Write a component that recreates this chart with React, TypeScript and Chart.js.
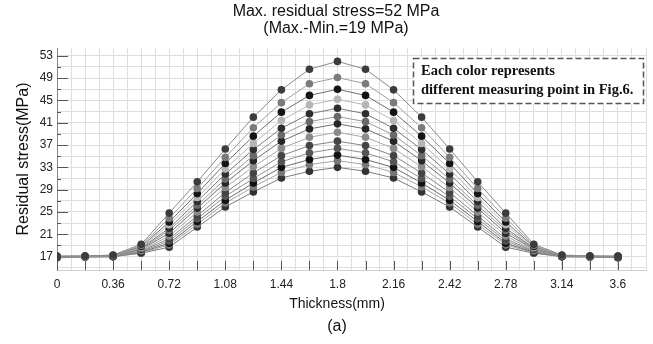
import { useEffect, useRef } from 'react';
import { Chart, registerables } from 'chart.js';

Chart.register(...registerables);

const thickness = [0, 0.18, 0.36, 0.54, 0.72, 0.9, 1.08, 1.26, 1.44, 1.62, 1.8, 1.98, 2.16, 2.34, 2.52, 2.7, 2.88, 3.06, 3.24, 3.42, 3.6];
const xTickLabels = ['0', '0.36', '0.72', '1.08', '1.44', '1.8', '2.16', '2.42', '2.78', '3.14', '3.6'];
const yTickLabels = [17, 21, 25, 29, 33, 37, 41, 45, 49, 53];

const s1 = [17.1, 17.1, 17.3, 19.2, 24.8, 30.4, 36.3, 42.0, 46.9, 50.6, 52.0, 50.6, 46.9, 42.0, 36.3, 30.4, 24.8, 19.2, 17.3, 17.1, 17.1];
const s2 = [17.1, 17.1, 17.2, 19.0, 23.9, 29.2, 34.8, 40.1, 44.6, 48.0, 49.1, 48.0, 44.6, 40.1, 34.8, 29.2, 23.9, 19.0, 17.2, 17.1, 17.1];
const s3 = [17.0, 17.1, 17.2, 18.8, 23.2, 28.3, 33.7, 38.6, 42.9, 45.9, 47.0, 45.9, 42.9, 38.6, 33.7, 28.3, 23.2, 18.8, 17.2, 17.1, 17.0];
const s4 = [17.0, 17.0, 17.2, 18.6, 22.7, 27.6, 32.7, 37.3, 41.4, 44.2, 45.2, 44.2, 41.4, 37.3, 32.7, 27.6, 22.7, 18.6, 17.2, 17.0, 17.0];
const s5 = [17.0, 17.0, 17.1, 18.5, 22.1, 26.9, 31.8, 36.2, 40.0, 42.6, 43.6, 42.6, 40.0, 36.2, 31.8, 26.9, 22.1, 18.5, 17.1, 17.0, 17.0];
const s6 = [17.0, 17.0, 17.1, 18.4, 21.7, 26.2, 30.9, 35.1, 38.8, 41.2, 42.1, 41.2, 38.8, 35.1, 30.9, 26.2, 21.7, 18.4, 17.1, 17.0, 17.0];
const s7 = [17.0, 17.0, 17.1, 18.3, 21.2, 25.7, 30.2, 34.2, 37.7, 39.9, 40.8, 39.9, 37.7, 34.2, 30.2, 25.7, 21.2, 18.3, 17.1, 17.0, 17.0];
const s8 = [17.0, 17.0, 17.1, 18.1, 20.7, 25.0, 29.4, 33.1, 36.4, 38.4, 39.3, 38.4, 36.4, 33.1, 29.4, 25.0, 20.7, 18.1, 17.1, 17.0, 17.0];
const s9 = [16.9, 17.0, 17.0, 18.0, 20.2, 24.3, 28.5, 32.0, 35.1, 36.9, 37.7, 36.9, 35.1, 32.0, 28.5, 24.3, 20.2, 18.0, 17.0, 17.0, 16.9];
const s10 = [16.9, 17.0, 17.0, 17.9, 19.8, 23.8, 27.8, 31.0, 34.0, 35.6, 36.4, 35.6, 34.0, 31.0, 27.8, 23.8, 19.8, 17.9, 17.0, 17.0, 16.9];
const s11 = [16.9, 17.0, 17.0, 17.8, 19.4, 23.3, 27.1, 30.2, 33.0, 34.4, 35.2, 34.4, 33.0, 30.2, 27.1, 23.3, 19.4, 17.8, 17.0, 17.0, 16.9];
const s12 = [16.8, 17.0, 17.0, 17.7, 19.1, 22.8, 26.6, 29.5, 32.1, 33.5, 34.2, 33.5, 32.1, 29.5, 26.6, 22.8, 19.1, 17.7, 17.0, 17.0, 16.8];
const s13 = [16.8, 16.9, 17.0, 17.6, 18.7, 22.3, 25.9, 28.6, 31.1, 32.3, 33.0, 32.3, 31.1, 28.6, 25.9, 22.3, 18.7, 17.6, 17.0, 16.9, 16.8];

const seriesList = [s1, s2, s3, s4, s5, s6, s7, s8, s9, s10, s11, s12, s13];
const pointColors = ['#3c3c3c', '#7b7b7b', '#141414', '#b5b5b5', '#2e2e2e', '#6a6a6a', '#262626', '#8a8a8a', '#444444', '#555555', '#111111', '#777777', '#333333'];
const lineColors = ['#8a8a8a', '#a0a0a0', '#6e6e6e', '#b8b8b8', '#7a7a7a', '#9a9a9a', '#707070', '#a8a8a8', '#858585', '#909090', '#6a6a6a', '#a4a4a4', '#7c7c7c'];

const FONT = '"Liberation Sans", Arial, sans-serif';

export default function App() {
  const ref = useRef<HTMLCanvasElement>(null);

  useEffect(() => {
    const canvas = ref.current;
    if (!canvas) return;

    const decor = {
      id: 'decor',
      beforeDatasetsDraw(chart: any) {
        const { ctx, chartArea, scales } = chart;
        const x = scales.x;
        const y = scales.y;
        ctx.save();
        ctx.strokeStyle = '#555';
        ctx.lineWidth = 1;
        for (let v = 17; v <= 53; v += 2) {
          const py = Math.round(y.getPixelForValue(v)) + 0.5;
          const len = yTickLabels.includes(v) ? 11 : 4;
          ctx.beginPath();
          ctx.moveTo(chartArea.left, py);
          ctx.lineTo(chartArea.left + len, py);
          ctx.stroke();
        }
        thickness.forEach((t) => {
          const px = Math.round(x.getPixelForValue(t)) + 0.5;
          ctx.beginPath();
          ctx.moveTo(px, chartArea.bottom);
          ctx.lineTo(px, chartArea.bottom - 9);
          ctx.stroke();
        });
        ctx.restore();
      },
      afterDraw(chart: any) {
        const { ctx } = chart;
        ctx.save();
        ctx.fillStyle = '#111';
        ctx.textAlign = 'center';
        ctx.textBaseline = 'middle';
        ctx.font = `16px ${FONT}`;
        ctx.fillText('Max. residual stress=52 MPa', 336, 12);
        ctx.fillText('(Max.-Min.=19 MPa)', 336, 29);
        ctx.font = `14px ${FONT}`;
        ctx.fillText('Thickness(mm)', 337, 304);
        ctx.font = `16px ${FONT}`;
        ctx.fillText('(a)', 337, 327);
        ctx.save();
        ctx.translate(24, 159);
        ctx.rotate(-Math.PI / 2);
        ctx.font = `16px ${FONT}`;
        ctx.fillText('Residual stress(MPa)', 0, 0);
        ctx.restore();

        // annotation box
        ctx.fillStyle = '#fff';
        ctx.fillRect(413, 58, 231, 46);
        ctx.setLineDash([6, 3]);
        ctx.strokeStyle = '#555';
        ctx.lineWidth = 1.5;
        ctx.strokeRect(413.5, 58.5, 230, 45);
        ctx.setLineDash([]);
        ctx.fillStyle = '#111';
        ctx.textAlign = 'left';
        ctx.font = `bold 14.5px "Liberation Serif", "Times New Roman", serif`;
        ctx.fillText('Each color represents', 421, 71);
        ctx.fillText('different measuring point in Fig.6.', 421, 90);
        ctx.restore();
      },
    };

    const chart = new Chart(canvas, {
      type: 'line',
      data: {
        datasets: seriesList.map((s, k) => ({
          label: `Point ${k + 1}`,
          data: s.map((v, i) => ({ x: thickness[i], y: v })),
          borderColor: lineColors[k],
          backgroundColor: pointColors[k],
          pointBackgroundColor: pointColors[k],
          pointBorderWidth: 0,
          pointRadius: 3.8,
          borderWidth: 1,
          tension: 0,
          fill: false,
        })),
      },
      options: {
        responsive: false,
        animation: false,
        devicePixelRatio: 1,
        layout: { padding: { top: 48, right: 7, left: 0, bottom: 0 } },
        plugins: {
          legend: { display: false },
          title: { display: false },
          tooltip: { enabled: false },
        },
        scales: {
          x: {
            type: 'linear',
            min: 0,
            max: 3.78,
            afterBuildTicks: (s: any) => {
              s.ticks = Array.from({ length: 43 }, (_, i) => ({ value: i * 0.09 }));
            },
            afterFit: (s: any) => {
              s.height = 74;
            },
            grid: { color: '#dedede', lineWidth: 1, drawTicks: false },
            border: { display: true, color: '#cfcfcf' },
            ticks: {
              autoSkip: false,
              maxRotation: 0,
              padding: 7,
              color: '#222',
              font: { family: FONT, size: 12 },
              callback: (value: any) => {
                const i = Math.round(Number(value) / 0.09);
                return i % 4 === 0 && xTickLabels[i / 4] !== undefined ? xTickLabels[i / 4] : '';
              },
            },
          },
          y: {
            type: 'linear',
            min: 14.6,
            max: 54.4,
            afterBuildTicks: (s: any) => {
              const arr = [];
              for (let v = 15; v <= 53; v += 2) arr.push({ value: v });
              s.ticks = arr;
            },
            afterFit: (s: any) => {
              s.width = 57;
            },
            grid: { color: '#dedede', lineWidth: 1, drawTicks: false },
            border: { display: true, color: '#888' },
            ticks: {
              autoSkip: false,
              padding: 4,
              color: '#222',
              font: { family: FONT, size: 12 },
              callback: (value: any) => (yTickLabels.includes(Number(value)) ? String(value) : ''),
            },
          },
        },
      },
      plugins: [decor],
    } as any);

    return () => chart.destroy();
  }, []);

  return (
    <div style={{ position: 'absolute', left: 0, top: 0, width: 653, height: 344, background: '#fff' }}>
      <canvas ref={ref} width={653} height={344} style={{ display: 'block' }} />
    </div>
  );
}
